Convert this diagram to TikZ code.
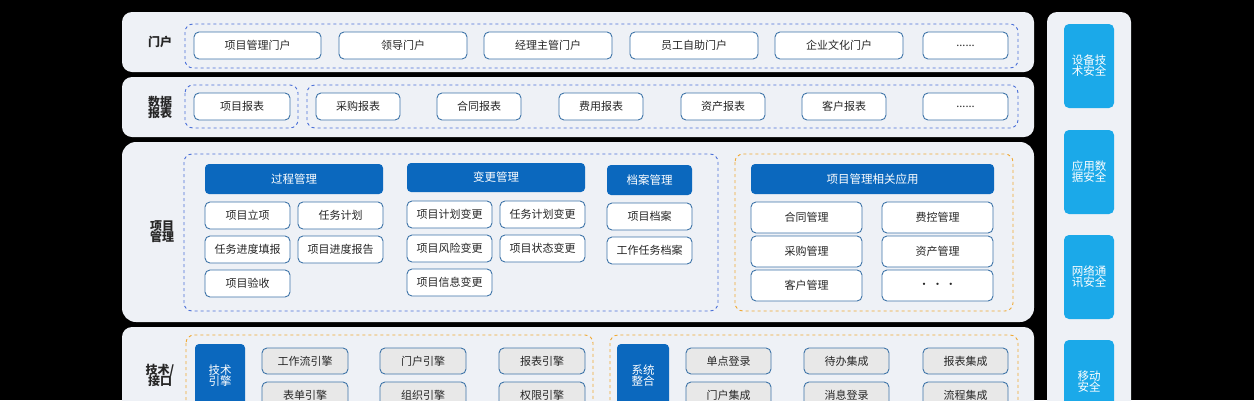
\documentclass[tikz,border=0pt]{standalone}
\usepackage{fontspec}
\setmainfont{Noto Sans CJK SC}
\newcommand{\mysixdots}{......}
\begin{document}
\begin{tikzpicture}[x=1pt,y=-1pt,
 panel/.style={fill=panelc,rounded corners=10pt},
 lab/.style={font=\bfseries\fontsize{12}{14}\selectfont,align=center,text=black!85},
 bdash/.style={draw=dashb,dashed,line width=0.9pt,rounded corners=8pt},
 odash/.style={draw=dasho,dashed,line width=0.9pt,rounded corners=8pt},
 itm/.style={draw=itemb,fill=white,line width=0.9pt,rounded corners=5pt},
 gitm/.style={draw=itemb,fill=gray!18,line width=0.9pt,rounded corners=5pt},
 hdr/.style={fill=hdrc,rounded corners=4pt},
 cyb/.style={fill=cyanc,rounded corners=5pt},
 t/.style={font=\fontsize{11}{13}\selectfont,text=black!85,align=center},
 wt/.style={font=\fontsize{11.5}{14}\selectfont,text=white,align=center}]
\definecolor{panelc}{HTML}{EEF1F6}
\definecolor{dashb}{HTML}{4A6FD8}
\definecolor{dasho}{HTML}{F0A830}
\definecolor{itemb}{HTML}{3E74A8}
\definecolor{hdrc}{HTML}{0B68BE}
\definecolor{cyanc}{HTML}{1BA9E9}
\fill[black] (0,0) rectangle (1254,400);
\useasboundingbox (0,0) rectangle (1254,400);
% panels
\fill[panel] (122,12) rectangle (1034,72);
\fill[panel] (122,77) rectangle (1034,137);
\fill[panel,rounded corners=14pt] (122,142) rectangle (1034,322);
\fill[panel] (122,327) rectangle (1034,412);
\fill[panel] (1047,12) rectangle (1131,412);
% labels
\node[lab] (l1) at (160,42) {门户};
\node[lab] (l2) at (160,107) {数据\\[-3pt]报表};
\node[lab] (l3) at (162,232) {项目\\[-3pt]管理};
\node[lab] (l4) at (160,375) {技术/\\[-3pt]接口};
% row 1
\draw[bdash] (185,24) rectangle (1018,68);
\foreach \a/\b/\s [count=\i] in {194/321/项目管理门户,339/467/领导门户,484/612/经理主管门户,630/758/员工自助门户,775/903/企业文化门户,923/1008/\mysixdots}{
 \draw[itm] (\a,32) rectangle (\b,59);
 \node[t] (r1\i) at ({(\a+\b)/2},45.5) {\s};}
% row 2
\draw[bdash] (185,85) rectangle (298,128);
\draw[bdash] (307,85) rectangle (1018,128);
\foreach \a/\b/\s [count=\i] in {194/290/项目报表,316/400/采购报表,437/521/合同报表,559/643/费用报表,681/765/资产报表,802/886/客户报表,923/1008/\mysixdots}{
 \draw[itm] (\a,93) rectangle (\b,120);
 \node[t] (r2\i) at ({(\a+\b)/2},106.5) {\s};}
% row 3
\draw[bdash] (184,154) rectangle (718,311);
\fill[hdr] (205,164) rectangle (383,194); \node[wt] (h1) at (294,179) {过程管理};
\fill[hdr] (407,163) rectangle (585,192); \node[wt] (h2) at (496,177.5) {变更管理};
\fill[hdr] (607,165) rectangle (692,195); \node[wt] (h3) at (649.5,180) {档案管理};
\foreach \a/\y/\s [count=\i] in {205/202/项目立项,298/202/任务计划,205/236/任务进度填报,298/236/项目进度报告,205/270/项目验收,
 407/201/项目计划变更,500/201/任务计划变更,407/235/项目风险变更,500/235/项目状态变更,407/269/项目信息变更,
 607/203/项目档案,607/237/工作任务档案}{
 \draw[itm] (\a,\y) rectangle ({\a+85},{\y+27});
 \node[t] (p\i) at ({\a+42.5},{\y+13.5}) {\s};}
\draw[odash] (735,154) rectangle (1013,311);
\fill[hdr] (751,164) rectangle (994,194); \node[wt] (h4) at (872.5,179) {项目管理相关应用};
\foreach \a/\y/\s [count=\i] in {751/202/合同管理,882/202/费控管理,751/236/采购管理,882/236/资产管理,751/270/客户管理,882/270/{• • •}}{
 \draw[itm] (\a,\y) rectangle ({\a+111},{\y+31});
 \node[t] (q\i) at ({\a+55.5},{\y+15.5}) {\s};}
% row 4
\draw[odash] (186,335) rectangle (593,420);
\fill[hdr] (195,344) rectangle (245,420); \node[wt] (e0) at (220,376) {技术\\[-3pt]引擎};
\foreach \a/\y/\s [count=\i] in {262/348/工作流引擎,380/348/门户引擎,499/348/报表引擎,262/382/表单引擎,380/382/组织引擎,499/382/权限引擎}{
 \draw[gitm] (\a,\y) rectangle ({\a+86},{\y+26});
 \node[t] (e\i) at ({\a+43},{\y+13}) {\s};}
\draw[odash] (610,335) rectangle (1018,420);
\fill[hdr] (617,344) rectangle (669,420); \node[wt] (s0) at (643,376) {系统\\[-3pt]整合};
\foreach \a/\y/\s [count=\i] in {686/348/单点登录,804/348/待办集成,923/348/报表集成,686/382/门户集成,804/382/消息登录,923/382/流程集成}{
 \draw[gitm] (\a,\y) rectangle ({\a+85},{\y+26});
 \node[t] (s\i) at ({\a+42.5},{\y+13}) {\s};}
% right column
\foreach \y/\s [count=\i] in {24/{设备技\\[-3pt]术安全},130/{应用数\\[-3pt]据安全},235/{网络通\\[-3pt]讯安全},340/{移动\\[-3pt]安全}}{
 \fill[cyb] (1064,\y) rectangle (1114,{\y+84});
 \node[wt] (c\i) at (1089,{\y+42}) {\s};}
\end{tikzpicture}
\end{document}
